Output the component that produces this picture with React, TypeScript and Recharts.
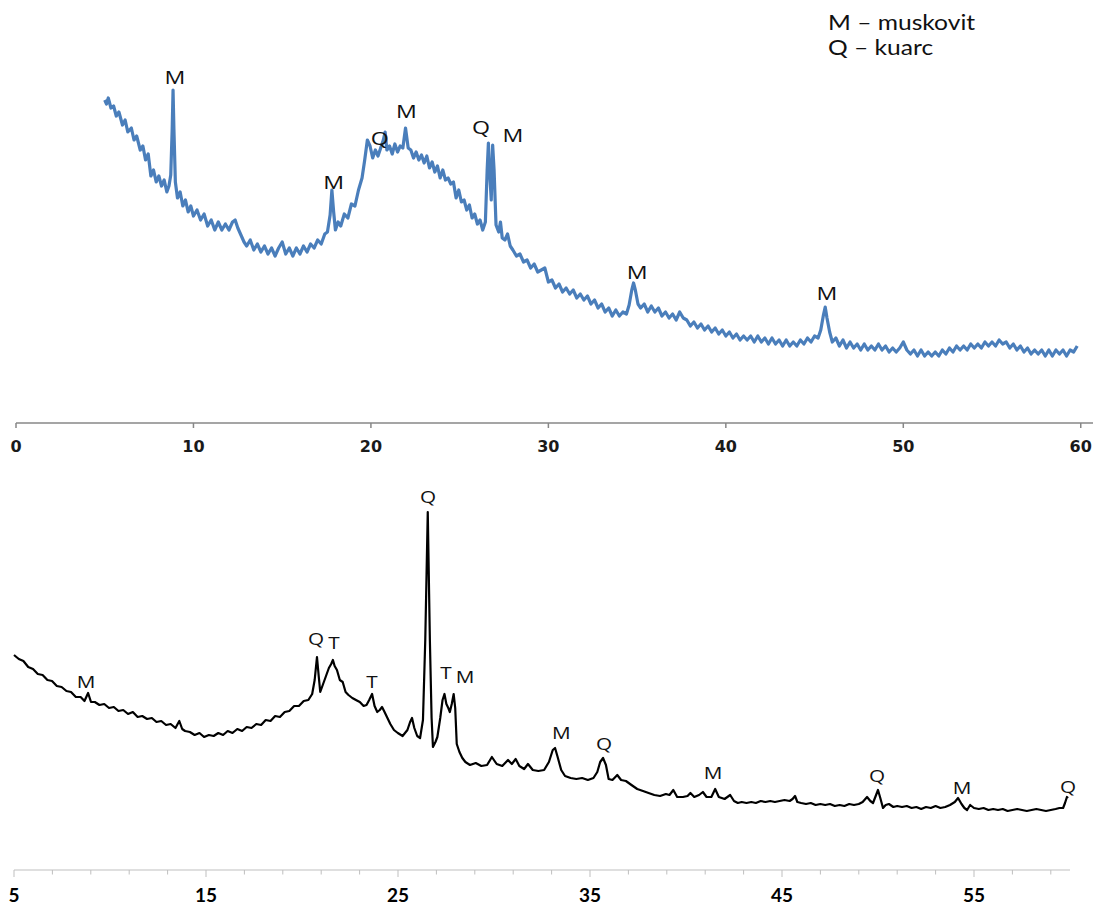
import { Line, LineChart, ReferenceDot, XAxis, YAxis } from "recharts";

// upper pattern (blue), [2theta, intensity]
const upperScan: [number, number][] = [
  [5.0, 321], [5.1, 317], [5.2, 323], [5.35, 313], [5.5, 315], [5.65, 305], [5.8, 309],
  [6.0, 296], [6.15, 301], [6.3, 289], [6.5, 293], [6.65, 281], [6.8, 285], [7.0, 271],
  [7.15, 275], [7.3, 261], [7.45, 267], [7.6, 245], [7.75, 251], [7.9, 239], [8.05, 245],
  [8.2, 235], [8.35, 241], [8.5, 229], [8.62, 235], [8.72, 246], [8.8, 291], [8.85, 331],
  [8.9, 291], [8.98, 239], [9.1, 223], [9.25, 229], [9.4, 215], [9.55, 221], [9.7, 209],
  [9.85, 215], [10.0, 205], [10.2, 211], [10.4, 201], [10.6, 207], [10.8, 195], [11.0, 201],
  [11.2, 191], [11.4, 199], [11.6, 191], [11.8, 197], [12.0, 191], [12.2, 199], [12.35, 201],
  [12.5, 193], [12.7, 185], [12.85, 179], [13.0, 175], [13.2, 181], [13.4, 171], [13.6, 177],
  [13.8, 169], [14.0, 175], [14.2, 167], [14.4, 173], [14.6, 165], [14.8, 173], [15.0, 179],
  [15.2, 167], [15.4, 173], [15.6, 165], [15.8, 173], [16.0, 167], [16.2, 175], [16.4, 169],
  [16.6, 177], [16.8, 173], [17.0, 181], [17.2, 177], [17.4, 187], [17.55, 189], [17.7, 206],
  [17.8, 231], [17.9, 209], [18.0, 191], [18.15, 199], [18.3, 195], [18.5, 207], [18.7, 203],
  [18.9, 217], [19.1, 215], [19.3, 231], [19.5, 243], [19.65, 261], [19.8, 281], [19.95, 275],
  [20.1, 263], [20.25, 271], [20.4, 265], [20.55, 273], [20.7, 281], [20.8, 289], [20.9, 271],
  [21.05, 275], [21.2, 267], [21.35, 277], [21.5, 269], [21.65, 275], [21.8, 273], [21.95, 293],
  [22.1, 273], [22.25, 271], [22.4, 263], [22.55, 269], [22.7, 261], [22.85, 266], [23.0, 258],
  [23.15, 265], [23.3, 253], [23.45, 259], [23.6, 249], [23.75, 255], [23.9, 243], [24.05, 251],
  [24.2, 241], [24.35, 243], [24.5, 237], [24.65, 239], [24.8, 223], [24.95, 231], [25.1, 219],
  [25.25, 221], [25.4, 211], [25.55, 216], [25.7, 203], [25.85, 207], [26.0, 197], [26.15, 201],
  [26.3, 191], [26.45, 199], [26.55, 251], [26.62, 278], [26.7, 246], [26.78, 221], [26.86, 276],
  [26.94, 251], [27.05, 196], [27.2, 189], [27.3, 199], [27.4, 183], [27.55, 181], [27.7, 187],
  [27.85, 175], [28.0, 171], [28.2, 165], [28.4, 167], [28.6, 159], [28.8, 161], [29.0, 153],
  [29.2, 157], [29.4, 149], [29.6, 151], [29.8, 153], [30.0, 139], [30.2, 141], [30.4, 133],
  [30.6, 137], [30.8, 129], [31.0, 133], [31.2, 127], [31.4, 131], [31.6, 123], [31.8, 127],
  [32.0, 121], [32.2, 125], [32.4, 117], [32.6, 121], [32.8, 113], [33.0, 117], [33.2, 109],
  [33.4, 113], [33.6, 105], [33.8, 111], [34.0, 105], [34.2, 109], [34.4, 107], [34.55, 116],
  [34.7, 131], [34.8, 138], [34.9, 131], [35.05, 117], [35.2, 113], [35.4, 117], [35.6, 109],
  [35.8, 115], [36.0, 109], [36.2, 113], [36.4, 105], [36.6, 109], [36.8, 103], [37.0, 107],
  [37.2, 101], [37.4, 109], [37.6, 103], [37.8, 101], [38.0, 95], [38.2, 99], [38.4, 93],
  [38.6, 97], [38.8, 91], [39.0, 95], [39.2, 89], [39.4, 93], [39.6, 87], [39.8, 91],
  [40.0, 85], [40.2, 89], [40.4, 83], [40.6, 87], [40.8, 81], [41.0, 85], [41.2, 81],
  [41.4, 85], [41.6, 79], [41.8, 85], [42.0, 79], [42.2, 83], [42.4, 77], [42.6, 83],
  [42.8, 77], [43.0, 81], [43.2, 75], [43.4, 81], [43.6, 75], [43.8, 79], [44.0, 75],
  [44.2, 81], [44.4, 77], [44.6, 83], [44.8, 79], [45.0, 85], [45.2, 83], [45.35, 91],
  [45.5, 106], [45.6, 114], [45.7, 103], [45.85, 89], [46.0, 79], [46.2, 83], [46.4, 75],
  [46.6, 81], [46.8, 73], [47.0, 79], [47.2, 73], [47.4, 77], [47.6, 71], [47.8, 77],
  [48.0, 71], [48.2, 75], [48.4, 71], [48.6, 77], [48.8, 71], [49.0, 75], [49.2, 69],
  [49.4, 73], [49.6, 69], [49.8, 73], [50.0, 79], [50.2, 71], [50.4, 67], [50.6, 71],
  [50.8, 65], [51.0, 71], [51.2, 65], [51.4, 69], [51.6, 65], [51.8, 69], [52.0, 65],
  [52.2, 71], [52.4, 67], [52.6, 73], [52.8, 69], [53.0, 75], [53.2, 71], [53.4, 75],
  [53.6, 71], [53.8, 77], [54.0, 73], [54.2, 77], [54.4, 73], [54.6, 79], [54.8, 75],
  [55.0, 79], [55.2, 75], [55.4, 81], [55.6, 77], [55.8, 79], [56.0, 73], [56.2, 77],
  [56.4, 71], [56.6, 75], [56.8, 69], [57.0, 73], [57.2, 67], [57.4, 71], [57.6, 67],
  [57.8, 71], [58.0, 65], [58.2, 71], [58.4, 65], [58.6, 71], [58.8, 67], [59.0, 71],
  [59.2, 65], [59.4, 71], [59.6, 69], [59.8, 75],
];

// lower pattern (black), [2theta, intensity]
const lowerScan: [number, number][] = [
  [5.0, 213], [5.25, 209], [5.49, 207], [5.74, 201], [5.99, 199], [6.24, 194], [6.49, 193],
  [6.74, 188], [6.98, 187], [7.23, 182], [7.48, 181], [7.73, 177], [7.97, 176], [8.22, 171],
  [8.47, 171], [8.67, 167], [8.86, 175], [9.01, 166], [9.21, 166], [9.45, 163], [9.7, 164],
  [9.95, 160], [10.2, 161], [10.44, 157], [10.69, 158], [10.94, 154], [11.19, 156], [11.44, 151],
  [11.68, 152], [11.93, 149], [12.18, 150], [12.42, 146], [12.67, 147], [12.92, 143], [13.16, 144],
  [13.41, 140], [13.61, 147], [13.76, 139], [13.91, 137], [14.16, 136], [14.41, 133], [14.66, 135],
  [14.9, 131], [15.15, 133], [15.4, 132], [15.64, 135], [15.89, 133], [16.13, 137], [16.38, 135],
  [16.63, 139], [16.88, 137], [17.12, 141], [17.37, 140], [17.62, 144], [17.87, 143], [18.11, 148],
  [18.36, 147], [18.6, 152], [18.85, 151], [19.1, 156], [19.34, 157], [19.59, 162], [19.84, 162],
  [20.09, 167], [20.33, 168], [20.53, 174], [20.66, 188], [20.78, 211], [20.88, 190], [20.95, 176],
  [21.1, 184], [21.25, 192], [21.4, 200], [21.52, 204], [21.61, 208], [21.7, 202], [21.82, 198],
  [21.97, 188], [22.12, 186], [22.27, 176], [22.42, 173], [22.62, 170], [22.81, 168], [23.01, 166],
  [23.21, 162], [23.36, 163], [23.5, 168], [23.65, 174], [23.78, 162], [23.92, 156], [24.05, 158],
  [24.17, 161], [24.3, 156], [24.45, 150], [24.6, 144], [24.79, 138], [24.99, 135], [25.24, 132],
  [25.49, 138], [25.63, 146], [25.73, 150], [25.85, 140], [26.0, 132], [26.15, 130], [26.3, 148],
  [26.42, 228], [26.55, 356], [26.66, 228], [26.75, 150], [26.82, 121], [26.95, 126], [27.05, 131],
  [27.2, 150], [27.32, 168], [27.42, 174], [27.52, 164], [27.62, 160], [27.7, 156], [27.8, 164],
  [27.9, 174], [27.98, 160], [28.06, 124], [28.2, 116], [28.35, 110], [28.51, 106], [28.75, 103],
  [29.05, 105], [29.34, 102], [29.64, 103], [29.89, 111], [30.14, 104], [30.43, 102], [30.73, 108],
  [30.93, 104], [31.13, 109], [31.32, 102], [31.57, 99], [31.77, 104], [32.02, 98], [32.31, 97],
  [32.61, 98], [32.86, 106], [33.06, 118], [33.18, 120], [33.3, 112], [33.5, 98], [33.7, 92],
  [33.99, 90], [34.29, 89], [34.59, 90], [34.89, 88], [35.18, 90], [35.38, 96], [35.53, 106],
  [35.68, 110], [35.83, 103], [35.97, 89], [36.17, 88], [36.42, 93], [36.62, 88], [36.87, 87],
  [37.16, 83], [37.46, 79], [37.76, 77], [38.05, 75], [38.35, 73], [38.65, 72], [38.95, 74],
  [39.14, 73], [39.34, 78], [39.54, 71], [39.84, 71], [40.08, 72], [40.23, 75], [40.43, 71],
  [40.68, 73], [40.88, 76], [41.07, 71], [41.32, 71], [41.52, 79], [41.71, 71], [42.01, 69],
  [42.3, 73], [42.5, 67], [42.7, 65], [42.9, 66], [43.15, 65], [43.4, 66], [43.64, 65],
  [43.89, 67], [44.14, 66], [44.39, 67], [44.63, 66], [44.88, 67], [45.13, 68], [45.4, 67],
  [45.55, 69], [45.68, 72], [45.8, 66], [46.0, 65], [46.25, 64], [46.5, 65], [46.75, 63],
  [47.0, 64], [47.25, 63], [47.5, 64], [47.75, 62], [48.0, 63], [48.25, 62], [48.5, 64],
  [48.75, 63], [49.0, 64], [49.2, 66], [49.43, 71], [49.6, 67], [49.74, 65], [49.88, 72],
  [50.0, 78], [50.12, 70], [50.26, 60], [50.4, 63], [50.57, 64], [50.8, 61], [51.0, 62],
  [51.25, 61], [51.5, 62], [51.75, 60], [52.0, 61], [52.25, 59], [52.5, 61], [52.75, 60],
  [53.0, 62], [53.25, 60], [53.5, 61], [53.75, 63], [54.0, 66], [54.17, 70], [54.35, 64],
  [54.5, 60], [54.64, 58], [54.8, 63], [55.0, 60], [55.25, 59], [55.5, 60], [55.75, 58],
  [56.0, 59], [56.25, 58], [56.5, 59], [56.75, 57], [57.0, 58], [57.25, 59], [57.5, 58],
  [57.75, 57], [58.0, 58], [58.25, 59], [58.5, 58], [58.75, 57], [59.0, 58], [59.25, 59],
  [59.45, 60], [59.64, 60], [59.74, 65], [59.84, 71], [59.9, 70],
];

const upperTicks = [0, 10, 20, 30, 40, 50, 60];
const lowerTicks = [5, 7, 9, 11, 13, 15, 17, 19, 21, 23, 25, 27, 29, 31, 33, 35, 37, 39, 41, 43, 45, 47, 49, 51, 53, 55, 57, 59];
const lowerTickLabels = [5, 15, 25, 35, 45, 55];

// phase marks: [2theta, height, phase]
const upperPeaks: [number, number, string][] = [
  [8.96, 344, "M"], [17.9, 239, "M"], [20.5, 283, "Q"], [22.0, 310, "M"],
  [26.2, 294, "Q"], [28.0, 286, "M"], [35.0, 149, "M"], [45.7, 128, "M"],
];
const lowerPeaks: [number, number, string][] = [
  [8.75, 186, "M"], [20.73, 229, "Q"], [21.67, 225, "T"], [23.65, 186, "T"],
  [26.56, 371, "Q"], [27.5, 195, "T"], [28.49, 191, "M"], [33.5, 135, "M"],
  [35.73, 124, "Q"], [41.41, 95, "M"], [49.95, 92, "Q"], [54.38, 80, "M"], [59.9, 81, "Q"],
];

const legendLines = ["M – muskovit", "Q – kuarc"];

const upperData = upperScan.map(([angle, counts]) => ({ angle, counts }));
const lowerData = lowerScan.map(([angle, counts]) => ({ angle, counts }));

function phaseMark(text: string, size: number) {
  return (props: any) => (
    <text
      transform={`translate(${props.cx} ${props.cy + size * 0.36}) scale(1.22 1)`}
      textAnchor="middle"
      fontFamily="Open Sans"
      fontSize={size}
      fill="#111"
    >
      {text}
    </text>
  );
}

function UpperTick({ x, y, payload }: any) {
  return (
    <text
      x={x}
      y={y + 22}
      textAnchor="middle"
      fontFamily="DejaVu Sans"
      fontWeight="bold"
      fontSize={16}
      fill="#1a1a1a"
    >
      {payload.value}
    </text>
  );
}

function LowerTick({ x, y, payload }: any) {
  const labelled = lowerTickLabels.includes(payload.value);
  return (
    <g>
      <line x1={x} y1={y} x2={x} y2={y + (labelled ? 7 : 4.5)} stroke="#bfbfbf" strokeWidth={1} />
      {labelled && (
        <text
          x={x}
          y={y + 32}
          textAnchor="middle"
          fontFamily="Lato"
          fontWeight="bold"
          fontSize={19}
          fill="#000"
        >
          {payload.value}
        </text>
      )}
    </g>
  );
}

export default function App() {
  return (
    <div style={{ position: "absolute", left: 0, top: 0, width: 1095, height: 906, background: "#fff" }}>
      <div style={{ position: "absolute", left: 0, top: 0 }}>
        <LineChart width={1095} height={460} data={upperData} margin={{ top: 0, right: 2, left: 16, bottom: 0 }}>
          <XAxis
            dataKey="angle"
            type="number"
            domain={[0, 60.69]}
            ticks={upperTicks}
            interval={0}
            height={37}
            axisLine={{ stroke: "#878787", strokeWidth: 1.5 }}
            tickLine={{ stroke: "#878787", strokeWidth: 1.5 }}
            tickSize={5}
            tick={<UpperTick />}
          />
          <YAxis hide domain={[-2, 421]} />
          <Line
            dataKey="counts"
            type="linear"
            stroke="#4a7ebb"
            strokeWidth={3.2}
            strokeLinejoin="round"
            dot={false}
            isAnimationActive={false}
          />
          {upperPeaks.map(([angle, h, phase], i) => (
            <ReferenceDot key={i} x={angle} y={h} r={0} ifOverflow="visible" shape={phaseMark(phase, 19)} />
          ))}
        </LineChart>
      </div>
      <div style={{ position: "absolute", left: 0, top: 460 }}>
        <LineChart width={1095} height={446} data={lowerData} margin={{ top: 0, right: 25, left: 14, bottom: 0 }}>
          <XAxis
            dataKey="angle"
            type="number"
            domain={[5, 60]}
            ticks={lowerTicks}
            interval={0}
            height={36}
            axisLine={{ stroke: "#bfbfbf", strokeWidth: 1 }}
            tickLine={false}
            tickSize={0}
            tickMargin={0}
            tick={<LowerTick />}
          />
          <YAxis hide domain={[-2, 408]} />
          <Line
            dataKey="counts"
            type="linear"
            stroke="#000"
            strokeWidth={2.2}
            strokeLinejoin="round"
            dot={false}
            isAnimationActive={false}
          />
          {lowerPeaks.map(([angle, h, phase], i) => (
            <ReferenceDot key={i} x={angle} y={h} r={0} ifOverflow="visible" shape={phaseMark(phase, 17)} />
          ))}
        </LineChart>
      </div>
      <div
        style={{
          position: "absolute",
          left: 828,
          top: 10,
          fontFamily: "Lato",
          fontSize: 20.5,
          lineHeight: "25px",
          color: "#111",
          whiteSpace: "pre",
          transform: "scaleX(1.2)",
          transformOrigin: "left top",
        }}
      >
        {legendLines.map((t) => (
          <div key={t}>{t}</div>
        ))}
      </div>
    </div>
  );
}
